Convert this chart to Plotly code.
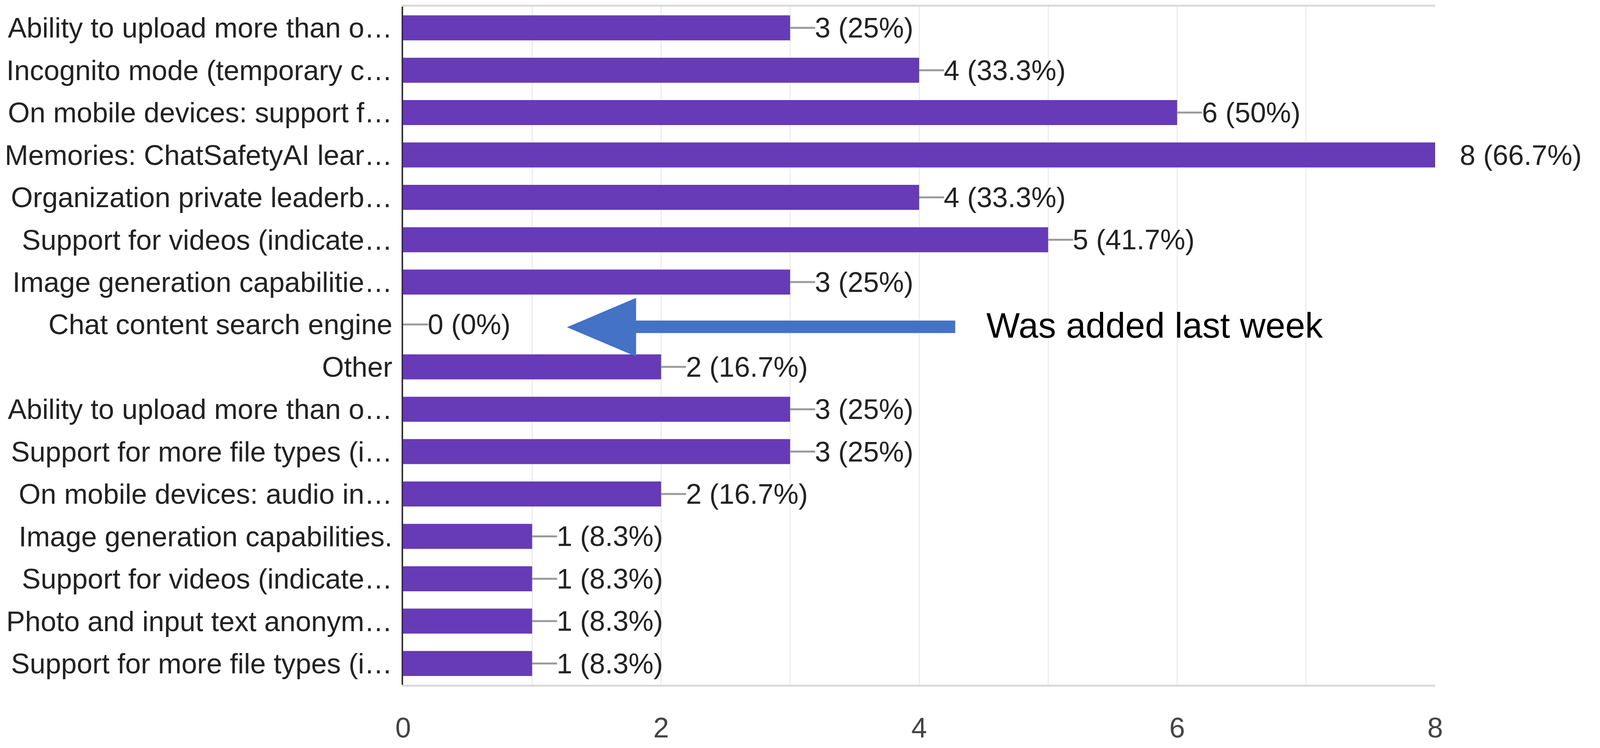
import plotly.graph_objects as go

labels = [
    "Ability to upload more than o…",
    "Incognito mode (temporary c…",
    "On mobile devices: support f…",
    "Memories: ChatSafetyAI lear…",
    "Organization private leaderb…",
    "Support for videos (indicate…",
    "Image generation capabilitie…",
    "Chat content search engine",
    "Other",
    "Ability to upload more than o…",
    "Support for more file types (i…",
    "On mobile devices: audio in…",
    "Image generation capabilities.",
    "Support for videos (indicate…",
    "Photo and input text anonym…",
    "Support for more file types (i…",
]
counts = [3, 4, 6, 8, 4, 5, 3, 0, 2, 3, 3, 2, 1, 1, 1, 1]
percents = ["25%", "33.3%", "50%", "66.7%", "33.3%", "41.7%", "25%", "0%",
            "16.7%", "25%", "25%", "16.7%", "8.3%", "8.3%", "8.3%", "8.3%"]
x_ticks = [0, 2, 4, 6, 8]
note_text = "Was added last week"
note_row = 7
arrow_tip_x = 1.27
arrow_head_x = 1.806
arrow_tail_x = 4.28
note_x = 4.515

positions = list(range(len(labels)))

FONT = "Liberation Sans, Arial, sans-serif"
BAR = "#673ab7"

# The browser viewport is 4096 px wide; lay the chart out for it.
W, H = 4096, 1914

fig = go.Figure()
fig.add_trace(go.Bar(
    x=counts, y=positions, orientation="h",
    marker=dict(color=BAR, line=dict(width=0)),
    width=0.59, hoverinfo="skip",
))

shapes = []
annotations = []
for pos, c, p in zip(positions, counts, percents):
    shapes.append(dict(
        type="line", xref="x", yref="y", xsizemode="pixel", xanchor=c,
        x0=0, x1=64, y0=pos, y1=pos,
        line=dict(color="#9a9a9a", width=5), layer="above",
    ))
    annotations.append(dict(
        x=c, y=pos, xref="x", yref="y", text=f"{c} ({p})",
        showarrow=False, xanchor="left", yanchor="middle", xshift=61,
        font=dict(family=FONT, size=72, color="#222222"),
    ))

# Blue arrow pointing at the empty row
shapes.append(dict(
    type="path", xref="x", yref="y", ysizemode="pixel", yanchor=note_row,
    path=(f"M {arrow_tip_x},-7 L {arrow_head_x},68 L {arrow_head_x},10 "
          f"L {arrow_tail_x},10 L {arrow_tail_x},-22 L {arrow_head_x},-22 "
          f"L {arrow_head_x},-82 Z"),
    fillcolor="#4472c4", line=dict(width=0), layer="above",
))
annotations.append(dict(
    x=note_x, y=note_row, xref="x", yref="y", text=note_text,
    showarrow=False, xanchor="left", yanchor="middle", yshift=-2,
    font=dict(family=FONT, size=91, color="#000000"),
))

fig.update_layout(
    width=W, height=H,
    margin=dict(l=1030, r=422, t=16, b=135),
    paper_bgcolor="white", plot_bgcolor="white",
    showlegend=False, bargap=0.41,
    shapes=shapes, annotations=annotations,
    font=dict(family=FONT),
)
fig.update_xaxes(
    range=[0, 8], tickvals=x_ticks, ticktext=[str(t) for t in x_ticks],
    showgrid=True, gridcolor="#ececec", gridwidth=3,
    minor=dict(dtick=1, showgrid=True, gridcolor="#ececec", gridwidth=3),
    zeroline=False, showline=True, linecolor="#dadada", linewidth=5, mirror=True,
    ticks="outside", ticklen=44, tickcolor="rgba(0,0,0,0)",
    tickfont=dict(family=FONT, size=72, color="#444444"),
    fixedrange=True,
)
fig.update_yaxes(
    range=[15.5, -0.5], tickmode="array", tickvals=positions, ticktext=labels,
    showgrid=False, zeroline=False, showline=True, linecolor="#333333", linewidth=4,
    ticks="outside", ticklen=9, tickcolor="rgba(0,0,0,0)",
    tickfont=dict(family=FONT, size=72, color="#222222"),
    fixedrange=True,
)

post = "document.body.style.margin='0px'; document.body.style.overflow='hidden';"
fig.write_html("out.html", post_script=post, config={"displayModeBar": False})
